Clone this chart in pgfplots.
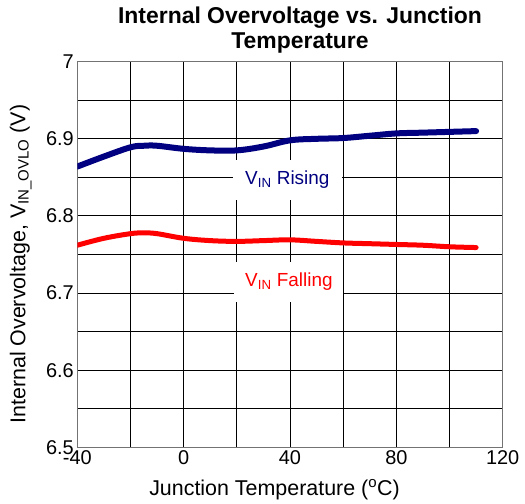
\documentclass[border=0pt]{standalone}
\usepackage{fontspec}
\setmainfont{Liberation Sans}
\usepackage{pgfplots}
\usepackage{pgfplotstable}
\pgfplotsset{compat=1.18}

\definecolor{rising}{RGB}{0,0,128}
\definecolor{falling}{RGB}{255,0,0}

% junction temperature (C) vs. OVLO threshold (V)
\pgfplotstableread{
T V
-40 6.864
-30 6.877
-20 6.889
-15 6.891
-10 6.891
0 6.887
10 6.885
20 6.885
30 6.890
40 6.898
50 6.900
60 6.901
70 6.904
80 6.907
90 6.908
100 6.909
110 6.910
}\risingdata

\pgfplotstableread{
T V
-40 6.762
-30 6.771
-20 6.777
-15 6.778
-10 6.777
0 6.771
10 6.768
20 6.767
30 6.768
40 6.769
50 6.767
60 6.765
70 6.764
80 6.763
90 6.762
100 6.760
110 6.759
}\fallingdata

\begin{document}
\begin{tikzpicture}
\begin{axis}[
    scale only axis,
    width=425.4bp, height=385.6bp,
    xmin=-40, xmax=120,
    ymin=6.5, ymax=7,
    xtick={-40,0,40,80,120},
    ytick={6.5,6.6,6.7,6.8,6.9,7},
    minor xtick={-20,20,60,100},
    minor ytick={6.55,6.65,6.75,6.85,6.95},
    grid=both,
    major grid style={black, line width=0.9bp},
    minor grid style={black, line width=0.9bp},
    major tick length=0pt, minor tick length=0pt,
    axis line style={black!55, line width=1.5bp},
    /pgf/number format/assume math mode=true,
    tick label style={font=\fontsize{20}{20}\selectfont},
    label style={font=\fontsize{21.5}{23}\selectfont},
    xlabel={Junction Temperature (\textsuperscript{o}C)},
    ylabel={Internal Overvoltage, V\textsubscript{IN\_OVLO} (V)},
    x label style={at={(axis description cs:0.4636,-0.124)}, anchor=base},
    y label style={at={(axis description cs:-0.133,0.475)}, anchor=center, rotate=0},
    title={Internal Overvoltage vs. Junction\\Temperature},
    title style={font=\bfseries\fontsize{23}{25.5}\selectfont, align=center,
        at={(axis description cs:0.5235,1)}, anchor=south, inner sep=0pt, yshift=2bp},
]
\addplot[rising, line width=6bp, line cap=round, smooth, tension=0.6] table[x=T, y=V] {\risingdata};
\addplot[falling, line width=5bp, line cap=round, smooth, tension=0.6] table[x=T, y=V] {\fallingdata};

\node[fill=white, inner sep=0pt, minimum width=109bp, minimum height=40bp,
      text=rising, font=\fontsize{19}{19}\selectfont]
      at (axis cs:39,6.847) {V\textsubscript{IN} Rising};
\node[fill=white, inner sep=0pt, minimum width=109bp, minimum height=40bp,
      text=falling, font=\fontsize{19}{19}\selectfont]
      at (axis cs:39.6,6.7145) {V\textsubscript{IN} Falling};

\coordinate (sw) at (rel axis cs:0,0);
\coordinate (ne) at (rel axis cs:1,1);
\end{axis}
\pgfresetboundingbox
\path ([xshift=-77.3bp, yshift=-56.7bp]sw) rectangle ([xshift=22.3bp, yshift=61.7bp]ne);
\end{tikzpicture}
\end{document}
